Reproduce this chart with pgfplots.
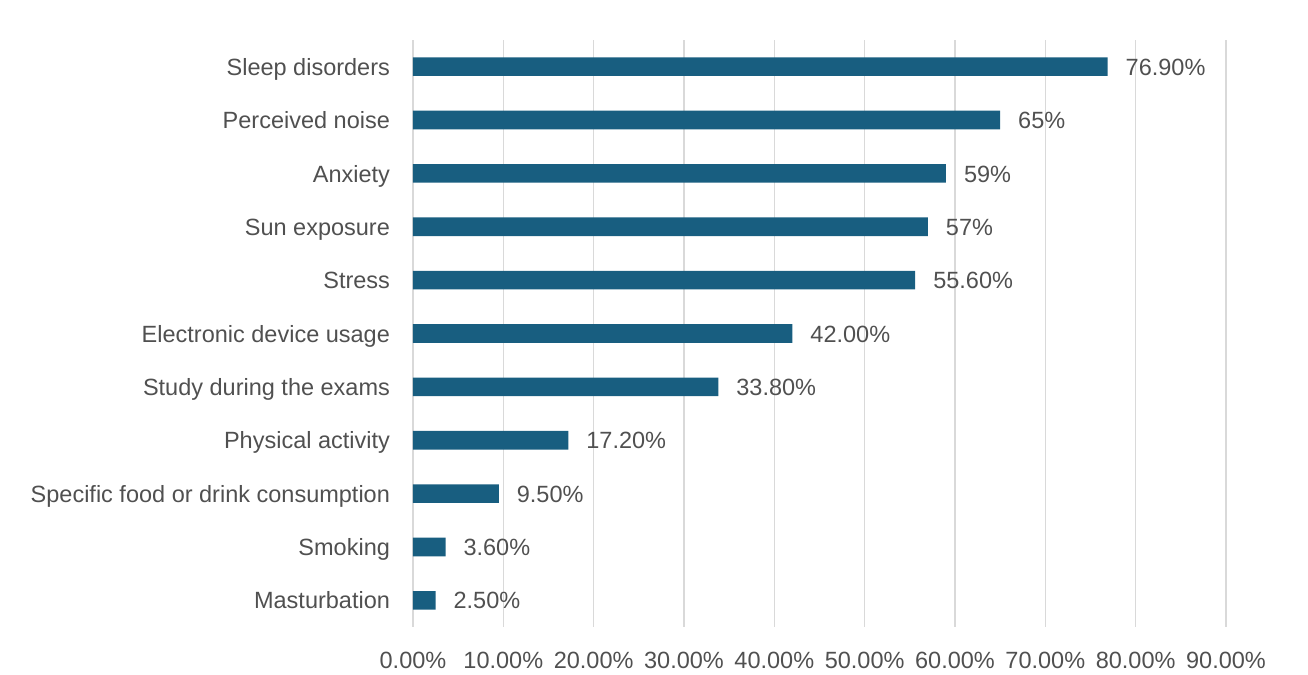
\documentclass[border=0pt]{standalone}
\usepackage{pgfplots}
\pgfplotsset{compat=1.18}
\usepackage{fontspec}
\setmainfont{Liberation Sans}
\definecolor{barblue}{RGB}{24,94,128}
\definecolor{txtgray}{RGB}{80,80,80}
\definecolor{gridgray}{RGB}{217,217,217}
\begin{document}
\begin{tikzpicture}
\path[use as bounding box] (-206.5pt,-24pt) rectangle (447.5pt,313.5pt);
\begin{axis}[
  scale only axis,
  width=406.5pt, height=293.5pt,
  xbar, bar width=9.3pt,
  xmin=0, xmax=90,
  ymin=-0.5, ymax=10.5, y dir=reverse,
  xtick={0,10,...,90},
  xticklabels={0.00\%,10.00\%,20.00\%,30.00\%,40.00\%,50.00\%,60.00\%,70.00\%,80.00\%,90.00\%},
  ytick={0,...,10},
  yticklabels={Sleep disorders,Perceived noise,Anxiety,Sun exposure,Stress,Electronic device usage,Study during the exams,Physical activity,Specific food or drink consumption,Smoking,Masturbation},
  xmajorgrids, major grid style={gridgray, line width=0.8pt},
  axis line style={draw=none},
  major tick length=0pt,
  tick label style={font=\fontsize{11.75}{14}\selectfont, text=txtgray},
  xticklabel style={yshift=-9pt},
  yticklabel style={xshift=-8pt, yshift=-1.3pt, text height=8.5pt, text depth=2.5pt},
  nodes near coords,
  nodes near coords align=horizontal,
  point meta=explicit symbolic,
  every node near coord/.append style={font=\fontsize{11.75}{14}\selectfont, text=txtgray, anchor=west, xshift=5.5pt, yshift=-1.3pt, text height=8.5pt, text depth=2.5pt},
]
\addplot[fill=barblue, draw=none] coordinates {
(76.9,0) [76.90\%]
(65.0,1) [65\%]
(59.0,2) [59\%]
(57.0,3) [57\%]
(55.6,4) [55.60\%]
(42.0,5) [42.00\%]
(33.8,6) [33.80\%]
(17.2,7) [17.20\%]
(9.5,8) [9.50\%]
(3.6,9) [3.60\%]
(2.5,10) [2.50\%]
};
\end{axis}
\end{tikzpicture}
\end{document}
